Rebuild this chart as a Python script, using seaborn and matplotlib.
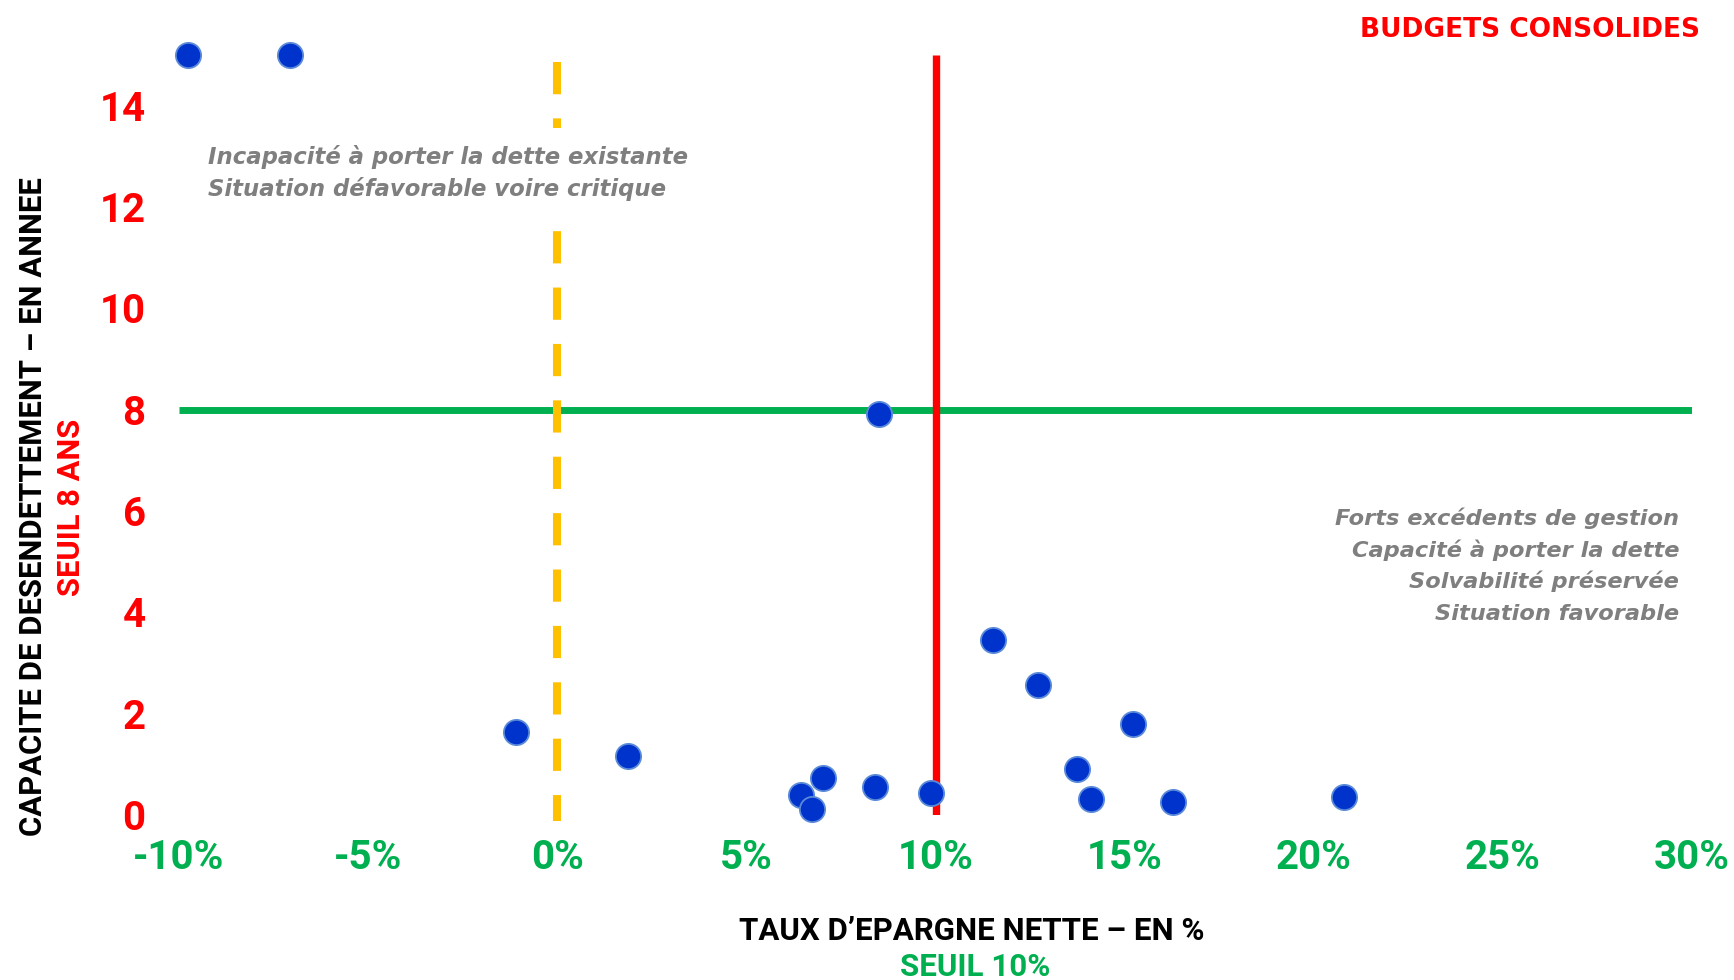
import matplotlib
matplotlib.use("Agg")
import matplotlib.pyplot as plt
from matplotlib.patches import Rectangle
import seaborn as sns
import pandas as pd

# Net savings rate (%) and debt payback capacity (years) per budget
taux_epargne = [-9.75, -7.06, -1.10, 1.87, 8.51, 11.51, 12.72, 15.22, 13.74,
                14.11, 16.27, 20.79, 9.88, 8.40, 7.03, 6.44, 6.74]
capacite_desendettement = [15.0, 15.0, 1.64, 1.16, 7.92, 3.45, 2.56, 1.79, 0.90,
                           0.32, 0.26, 0.35, 0.43, 0.55, 0.74, 0.39, 0.11]

# Thresholds
seuil_epargne = 10      # %
seuil_capacite = 8      # years
seuil_zero = 0          # %

x_ticks = [-10, -5, 0, 5, 10, 15, 20, 25, 30]
x_tick_labels = ["-10%", "-5%", "0%", "5%", "10%", "15%", "20%", "25%", "30%"]
y_ticks = [0, 2, 4, 6, 8, 10, 12, 14]
y_tick_labels = ["0", "2", "4", "6", "8", "10", "12", "14"]

texte_haut_gauche = ["Incapacité à porter la dette existante",
                     "Situation défavorable voire critique"]
texte_bas_droite = ["Forts excédents de gestion",
                    "Capacité à porter la dette",
                    "Solvabilité préservée",
                    "Situation favorable"]

RED = "#FF0000"
GREEN = "#00B050"
YELLOW = "#FFC000"
BLUE = "#0033CC"
GREY = "#7F7F7F"

sns.set_style("white")
plt.rcParams["font.family"] = ["Roboto", "DejaVu Sans"]

W, H = 1734, 980
fig = plt.figure(figsize=(W / 100, H / 100), dpi=100)
ax = fig.add_axes([179 / W, (H - 815) / H, (1692 - 179) / W, (815 - 55) / H])

df = pd.DataFrame({"taux": taux_epargne, "capacite": capacite_desendettement})

# Reference lines
ax.hlines(seuil_capacite, -10, 30, colors=GREEN, linewidth=5.0, zorder=1)
ax.vlines(seuil_epargne, 0, 15, colors=RED, linewidth=5.3, zorder=2)
ax.plot([seuil_zero, seuil_zero], [14.87, -0.11], color=YELLOW, linewidth=5.8,
        dashes=(4, 3), solid_capstyle="butt", dash_capstyle="butt", zorder=2,
        clip_on=False)

# White backing of the upper-left annotation
ax.add_patch(Rectangle((-9.6, 11.56), 13.5, 1.99, facecolor="white",
                       edgecolor="none", zorder=3))

sns.scatterplot(data=df, x="taux", y="capacite", ax=ax, s=330, color=BLUE,
                edgecolor="#5B8BD8", linewidth=1.3, zorder=5, clip_on=False,
                legend=False)

ax.set_xlim(-10, 30)
ax.set_ylim(0, 15)
for side in ax.spines.values():
    side.set_visible(False)

ax.set_xticks(x_ticks)
ax.set_xticklabels(x_tick_labels, color=GREEN, fontsize=29, fontweight="bold")
ax.set_yticks(y_ticks)
ax.set_yticklabels(y_tick_labels, color=RED, fontsize=29, fontweight="bold")
ax.tick_params(axis="x", length=0, pad=17)
ax.tick_params(axis="y", length=0, pad=24)
ax.set_xlabel("")
ax.set_ylabel("")

# Axis titles
fig.text(972 / W, 1 - 940 / H, "TAUX D\u2019EPARGNE NETTE \u2013 EN %", ha="center",
         va="baseline", fontsize=22.5, fontweight="bold", color="black")
fig.text(975 / W, 1 - 976 / H, "SEUIL 10%", ha="center", va="baseline",
         fontsize=22.5, fontweight="bold", color=GREEN)
fig.text(41.7 / W, 1 - 506.5 / H, "CAPACITE DE DESENDETTEMENT \u2013 EN ANNEE",
         rotation=90, rotation_mode="anchor", ha="center", va="baseline",
         fontsize=22.3, fontweight="bold", color="black")
fig.text(80 / W, 1 - 507 / H, "SEUIL 8 ANS", rotation=90, rotation_mode="anchor",
         ha="center", va="baseline", fontsize=22.2, fontweight="bold", color=RED)

# Title
fig.text(1700 / W, 1 - 36.5 / H, "BUDGETS CONSOLIDES", ha="right", va="baseline",
         fontsize=19, fontweight="bold", color=RED, family="DejaVu Sans")

# Quadrant annotations
for i, line in enumerate(texte_haut_gauche):
    fig.text(208 / W, 1 - (164 + 32 * i) / H, line, ha="left", va="baseline",
             fontsize=16.4, fontweight="bold", fontstyle="oblique", color=GREY,
             family="DejaVu Sans", zorder=4)
for i, line in enumerate(texte_bas_droite):
    fig.text(1679 / W, 1 - (524.9 + 31.7 * i) / H, line, ha="right", va="baseline",
             fontsize=16.2, fontweight="bold", fontstyle="oblique", color=GREY,
             family="DejaVu Sans")

fig.savefig("out.png", dpi=100, facecolor="white")
